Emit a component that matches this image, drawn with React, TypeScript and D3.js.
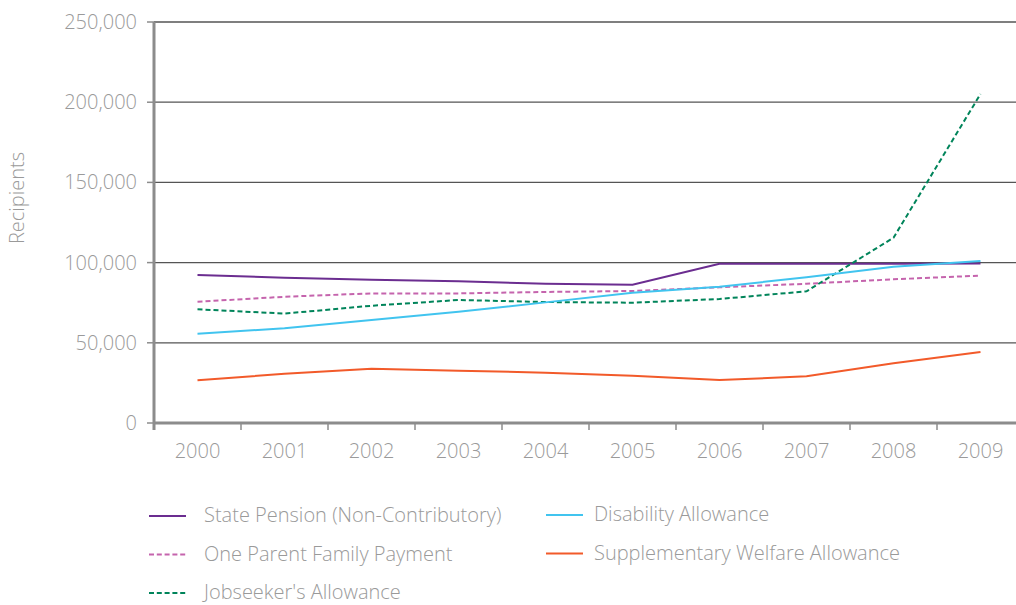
import React from 'react'
import * as d3 from 'd3'

const YEARS = ['2000', '2001', '2002', '2003', '2004', '2005', '2006', '2007', '2008', '2009']

const statePension = [92300, 90600, 89300, 88300, 86800, 86200, 99300, 99300, 99300, 99400]
const oneParent = [75600, 78700, 80800, 80800, 81700, 82300, 84600, 86800, 89600, 91900]
const jobseekers = [70900, 68200, 73100, 76700, 75400, 75000, 77300, 82100, 115500, 205100]
const disability = [55700, 59000, 64200, 69400, 75200, 81200, 85000, 90800, 97400, 101000]
const supplementary = [26600, 30700, 33800, 32600, 31400, 29500, 26800, 29100, 37200, 44300]

const Y_TICKS = [0, 50000, 100000, 150000, 200000, 250000]

const SERIES = [
  { name: 'State Pension (Non-Contributory)', values: statePension, color: '#6b2d90', dashed: false },
  { name: 'One Parent Family Payment', values: oneParent, color: '#c564ad', dashed: true },
  { name: "Jobseeker's Allowance", values: jobseekers, color: '#00845a', dashed: true },
  { name: 'Disability Allowance', values: disability, color: '#41c4ef', dashed: false },
  { name: 'Supplementary Welfare Allowance', values: supplementary, color: '#f25a2a', dashed: false },
]

// legend layout: [column, row] for each series
const LEGEND_POS = [[0, 0], [0, 1], [0, 2], [1, 0], [1, 1]]

const W = 1016
const H = 605
const FONT = "'Open Sans', 'Liberation Sans', sans-serif"
const TEXT = '#9a9a9a'

export default function App() {
  const left = 154
  const x = d3.scaleBand().domain(YEARS).range([left, 1024])
  const y = d3.scaleLinear().domain([0, 250000]).range([423, 22])
  const line = d3
    .line<number>()
    .x((_, i) => x(YEARS[i])! + x.bandwidth() / 2)
    .y((d) => y(d))

  const fmt = d3.format(',')

  return (
    <svg
      width={W}
      height={H}
      style={{ position: 'absolute', left: 0, top: 0, fontFamily: FONT }}
    >
      <rect width={W} height={H} fill="#fff" />

      {/* gridlines */}
      {Y_TICKS.filter((t) => t > 0).map((t) => (
        <line key={t} x1={left} x2={W} y1={y(t)} y2={y(t)} stroke="#555" strokeWidth={1.3} />
      ))}

      {/* y ticks + labels */}
      {Y_TICKS.map((t) => (
        <g key={'yt' + t}>
          <line x1={left - 7} x2={left} y1={y(t)} y2={y(t)} stroke="#8c8c8c" strokeWidth={1.5} />
          <text
            x={137}
            y={y(t)}
            dy="0.35em"
            textAnchor="end"
            fontSize={20}
            fontWeight={300}
            fill={TEXT}
          >
            {fmt(t)}
          </text>
        </g>
      ))}

      {/* x axis */}
      <line x1={left} x2={W} y1={y(0)} y2={y(0)} stroke="#8c8c8c" strokeWidth={3} />
      {YEARS.map((yr) => (
        <g key={yr}>
          <line
            x1={x(yr)!}
            x2={x(yr)!}
            y1={y(0)}
            y2={y(0) + 7}
            stroke="#8c8c8c"
            strokeWidth={1.5}
          />
          <text
            x={x(yr)! + x.bandwidth() / 2}
            y={458}
            textAnchor="middle"
            fontSize={20}
            fontWeight={300}
            fill={TEXT}
          >
            {yr}
          </text>
        </g>
      ))}

      {/* y axis line */}
      <line x1={left} x2={left} y1={y(250000)} y2={y(0) + 7} stroke="#8c8c8c" strokeWidth={3} />

      <text
        transform={`translate(24,198) rotate(-90)`}
        textAnchor="middle"
        fontSize={20}
        fontWeight={300}
        fill={TEXT}
      >
        Recipients
      </text>

      {/* series */}
      {SERIES.map((s) => (
        <path
          key={s.name}
          d={line(s.values) ?? ''}
          fill="none"
          stroke={s.color}
          strokeWidth={2}
          strokeDasharray={s.dashed ? '5,3' : undefined}
        />
      ))}

      {/* legend */}
      {SERIES.map((s, i) => {
        const [col, row] = LEGEND_POS[i]
        const lx = col === 0 ? 149 : 546
        const ly = (col === 0 ? 516 : 515) + row * 38.5
        return (
          <g key={'lg' + s.name}>
            <line
              x1={lx}
              x2={lx + 37}
              y1={ly}
              y2={ly}
              stroke={s.color}
              strokeWidth={2}
              strokeDasharray={s.dashed ? '5,2.8' : undefined}
            />
            <text
              x={lx + (col === 0 ? 55 : 48)}
              y={ly}
              dy="0.3em"
              fontSize={20}
              fontWeight={300}
              fill={TEXT}
            >
              {s.name}
            </text>
          </g>
        )
      })}
    </svg>
  )
}
